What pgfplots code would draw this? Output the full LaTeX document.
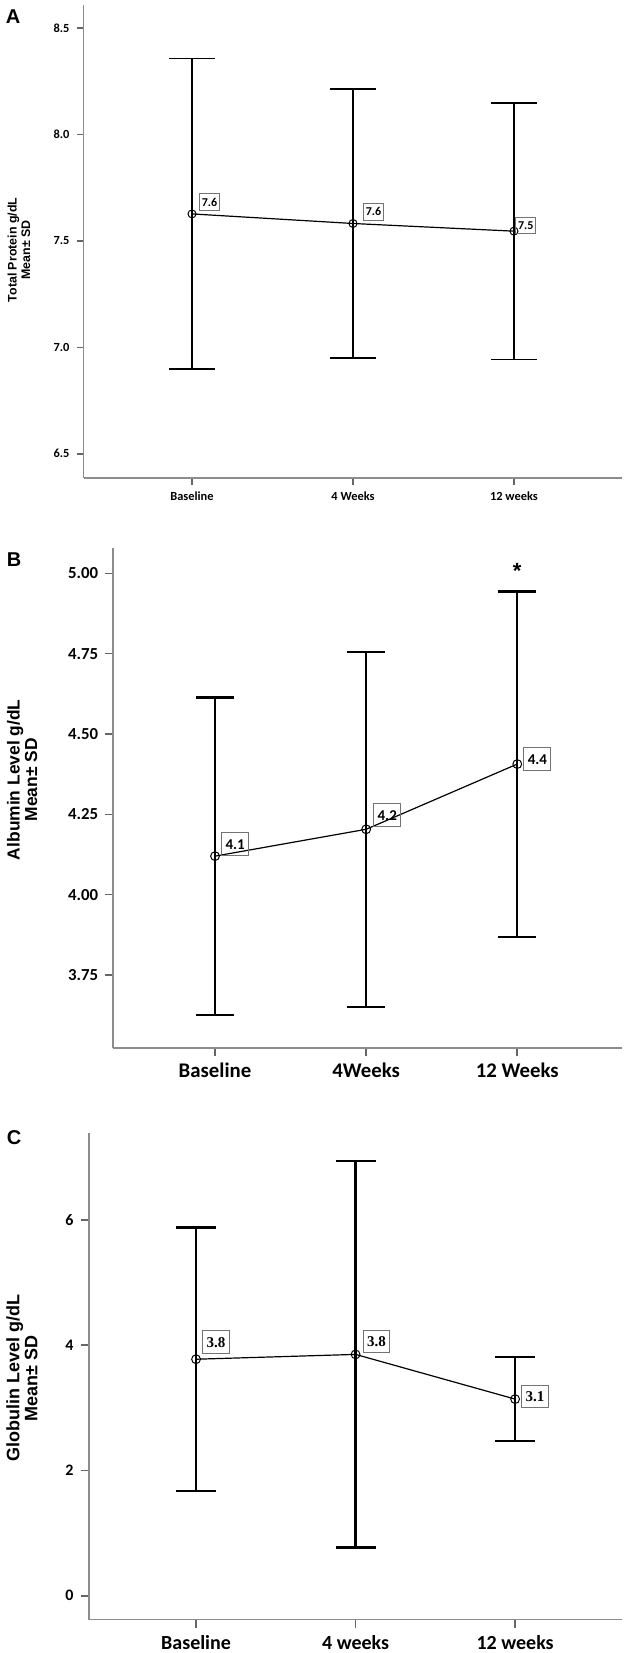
\documentclass[border=0pt]{standalone}
\usepackage{pgfplots}
\pgfplotsset{compat=1.18}
\usepackage{fontspec}
\setmainfont{Liberation Sans}
\newfontfamily\calfont{Carlito}
\newfontfamily\serfont{Liberation Serif}

\pgfplotsset{
  panel/.style={
    scale only axis, axis x line*=bottom, axis y line*=left,
    axis line style={-, draw=black!45, line width=0.8pt},
    tick align=outside, tick style={draw=black!60, line width=0.8pt},
    xtick={1,2,3}, clip=false,
    /pgf/number format/assume math mode=true,
  },
  lab/.style n args={3}{draw=none, mark=none, forget plot, nodes near coords, point meta=explicit symbolic,
    nodes near coords style={anchor=south west, xshift=#1, yshift=#2, draw=black!55, line width=0.5pt,
      text=black, #3}},
  caps/.style 2 args={only marks, forget plot, mark=-, mark size=#1, mark options={black, line width=#2}},
}

\begin{document}
\begin{tikzpicture}
\useasboundingbox (0,0) rectangle (312pt,826.5pt);

\node[font=\bfseries\fontsize{10}{10}\selectfont] at (6.5pt,818pt) {A};
\node[font=\bfseries\fontsize{10}{10}\selectfont] at (7pt,546.5pt) {B};
\node[font=\bfseries\fontsize{10}{10}\selectfont] at (7pt,257.5pt) {C};

% ---------------- Panel A ----------------
\begin{axis}[panel, at={(41.75pt,587.5pt)}, anchor=south west,
  width=269.25pt, height=236.5pt,
  xmin=0.326, xmax=3.671, ymin=6.386, ymax=8.609,
  ytick={6.5,7,7.5,8,8.5}, major tick length=3.5pt,
  yticklabel style={/pgf/number format/.cd, fixed, fixed zerofill, precision=1},
  xticklabels={Baseline,4 Weeks,12 weeks},
  tick label style={font=\calfont\bfseries\fontsize{6.2}{7}\selectfont, text=black},
  ylabel={Total Protein g/dL\\Mean± SD},
  ylabel style={at={(axis description cs:-0.12,0.482)}, anchor=center, align=center,
    font=\bfseries\fontsize{6.2}{6.8}\selectfont},
]
\addplot[caps={11.3pt}{0.9pt}] coordinates {(1,8.357) (2,8.215) (3,8.149) (1,6.897) (2,6.949) (3,6.943)};
\addplot[black, line width=0.6pt, mark=o, mark size=2pt, mark options={line width=0.5pt},
  error bars/.cd, y dir=both, y explicit, error mark=none,
  error bar style={line width=0.9pt, black}]
  coordinates {(1,7.627) +- (0,0.730) (2,7.582) +- (0,0.633) (3,7.546) +- (0,0.603)};
\addplot[lab={3.5pt}{1.7pt}{font=\calfont\bfseries\fontsize{6}{6}\selectfont, inner xsep=1.2pt, inner ysep=2pt, text height=4.3pt, text depth=0pt}]
  coordinates {(1,7.627)[7.6]};
\addplot[lab={5pt}{1.5pt}{font=\calfont\bfseries\fontsize{6}{6}\selectfont, inner xsep=1.2pt, inner ysep=2pt, text height=4.3pt, text depth=0pt}]
  coordinates {(2,7.582)[7.6]};
\addplot[lab={0.6pt}{-1.5pt}{font=\calfont\bfseries\fontsize{6}{6}\selectfont, inner xsep=1.2pt, inner ysep=2pt, text height=4.3pt, text depth=0pt}]
  coordinates {(3,7.546)[7.5]};
\end{axis}

% ---------------- Panel B ----------------
\begin{axis}[panel, at={(56.65pt,302.35pt)}, anchor=south west,
  width=254.5pt, height=250pt,
  xmin=0.327, xmax=3.695, ymin=3.522, ymax=5.078,
  ytick={3.75,4,4.25,4.5,4.75,5}, major tick length=4pt,
  yticklabel style={/pgf/number format/.cd, fixed, fixed zerofill, precision=2,
    /tikz/font=\calfont\bfseries\fontsize{8.4}{9}\selectfont},
  xticklabels={Baseline,4Weeks,12 Weeks},
  tick label style={text=black},
  xticklabel style={font=\calfont\bfseries\fontsize{10.4}{11}\selectfont},
  ylabel={Albumin Level g/dL\\Mean± SD},
  ylabel style={at={(axis description cs:-0.179,0.537)}, anchor=center, align=center,
    font=\bfseries\fontsize{8.7}{8.8}\selectfont},
]
\addplot[caps={9.4pt}{1.2pt}] coordinates {(1,4.614) (2,4.756) (3,4.944) (1,3.626) (2,3.651) (3,3.869)};
\addplot[black, line width=0.6pt, mark=o, mark size=2.2pt, mark options={line width=0.5pt},
  error bars/.cd, y dir=both, y explicit, error mark=none,
  error bar style={line width=1.2pt, black}]
  coordinates {(1,4.120) +- (0,0.494) (2,4.2035) +- (0,0.5525) (3,4.4065) +- (0,0.5375)};
\addplot[lab={3pt}{0pt}{font=\calfont\bfseries\fontsize{7.5}{7.5}\selectfont, inner xsep=2pt, inner ysep=3pt, text height=5.4pt, text depth=0pt}]
  coordinates {(1,4.120)[4.1]};
\addplot[lab={3.5pt}{1.3pt}{font=\calfont\bfseries\fontsize{7.5}{7.5}\selectfont, inner xsep=2pt, inner ysep=3pt, text height=5.4pt, text depth=0pt}]
  coordinates {(2,4.2035)[4.2]};
\addplot[lab={3pt}{-3.3pt}{font=\calfont\bfseries\fontsize{7.5}{7.5}\selectfont, inner xsep=2pt, inner ysep=3pt, text height=5.4pt, text depth=0pt}]
  coordinates {(3,4.4065)[4.4]};
\node[font=\bfseries\fontsize{11}{11}\selectfont, yshift=-2.4pt] at (axis cs:3,5.023) {*};
\end{axis}

% ---------------- Panel C ----------------
\begin{axis}[panel, at={(44.5pt,16.65pt)}, anchor=south west,
  width=266.5pt, height=243.5pt,
  xmin=0.329, xmax=3.67, ymin=-0.383, ymax=7.395,
  ytick={0,2,4,6}, major tick length=4.2pt,
  yticklabel style={font=\calfont\bfseries\fontsize{8}{9}\selectfont},
  xticklabels={Baseline,4 weeks,12 weeks},
  tick label style={text=black},
  xticklabel style={font=\calfont\bfseries\fontsize{10}{11}\selectfont},
  ylabel={Globulin Level g/dL\\Mean± SD},
  ylabel style={at={(axis description cs:-0.126,0.496)}, anchor=center, align=center,
    font=\bfseries\fontsize{9}{9}\selectfont},
]
\addplot[caps={10pt}{1.2pt}] coordinates {(1,5.880) (2,6.9385) (3,3.808) (1,1.674) (2,0.7695) (3,2.472)};
\addplot[black, line width=0.6pt, mark=o, mark size=2.2pt, mark options={line width=0.5pt},
  error bars/.cd, y dir=both, y explicit, error mark=none,
  error bar style={line width=1.2pt, black}]
  coordinates {(1,3.777) +- (0,2.103) (2,3.854) +- (0,3.0845) (3,3.140) +- (0,0.668)};
\addplot[lab={3pt}{2.5pt}{font=\serfont\bfseries\fontsize{7.5}{7.5}\selectfont, inner xsep=2pt, inner ysep=3pt, text height=5.4pt, text depth=0pt}]
  coordinates {(1,3.777)[3.8]};
\addplot[lab={3.5pt}{0.5pt}{font=\serfont\bfseries\fontsize{7.5}{7.5}\selectfont, inner xsep=2pt, inner ysep=3pt, text height=5.4pt, text depth=0pt}]
  coordinates {(2,3.854)[3.8]};
\addplot[lab={3pt}{-4.6pt}{font=\serfont\bfseries\fontsize{7.5}{7.5}\selectfont, inner xsep=2pt, inner ysep=3pt, text height=5.4pt, text depth=0pt}]
  coordinates {(3,3.140)[3.1]};
\end{axis}
\end{tikzpicture}
\end{document}
